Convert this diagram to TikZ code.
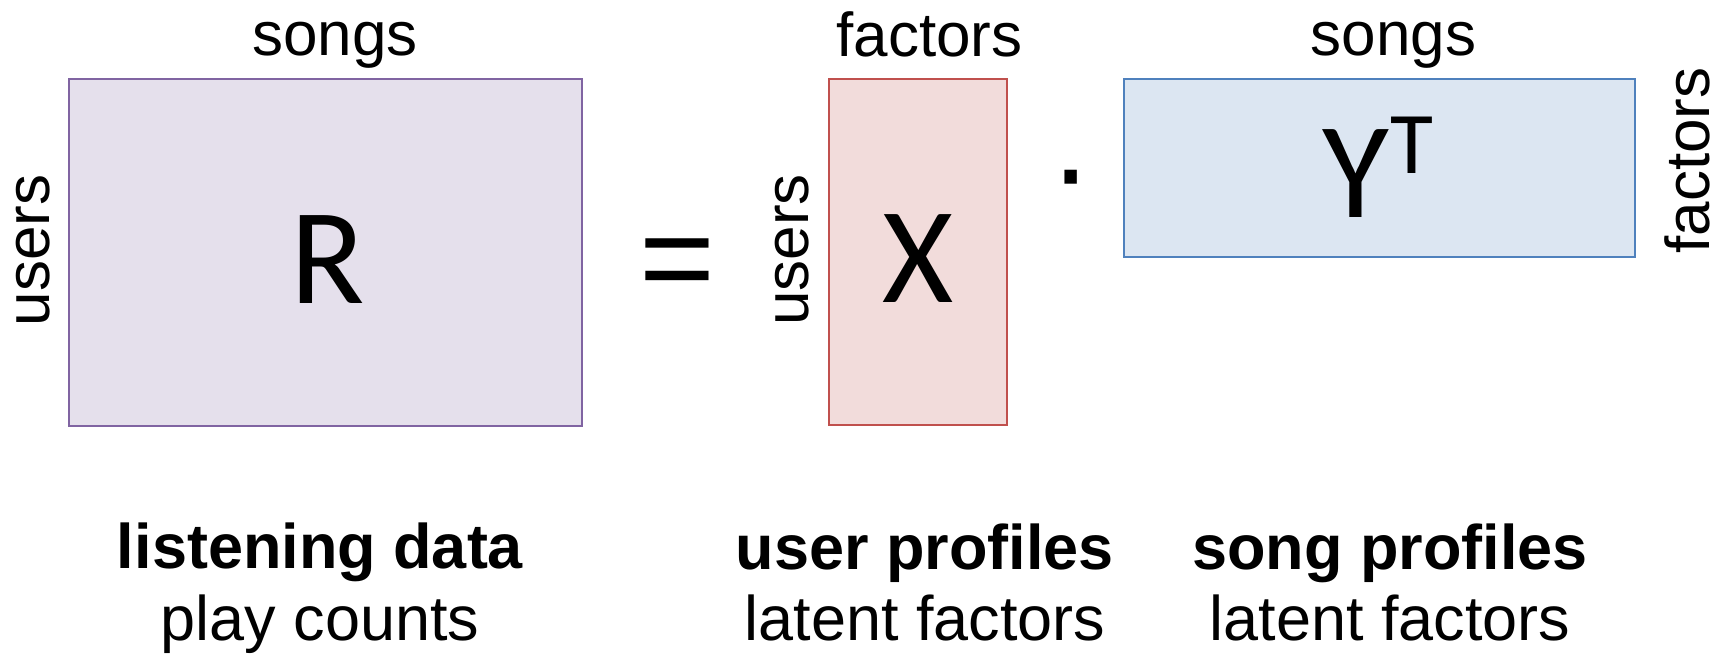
\documentclass[tikz,border=0pt]{standalone}
\usepackage{fontspec}
\setmainfont{Liberation Sans}
\newfontfamily\calibrifont{Carlito}

\definecolor{rfill}{HTML}{E5E0EC}
\definecolor{rline}{HTML}{8064A2}
\definecolor{xfill}{HTML}{F2DCDB}
\definecolor{xline}{HTML}{C0504D}
\definecolor{yfill}{HTML}{DCE6F2}
\definecolor{yline}{HTML}{4F81BD}

\begin{document}
\begin{tikzpicture}[x=1pt,y=-1pt,
	matbox/.style={draw, line width=2pt, inner sep=0pt},
	axislabel/.style={font=\fontsize{62}{62}\selectfont, anchor=base, inner sep=0pt},
	sidelabel/.style={axislabel, rotate=90},
	matsym/.style={font=\calibrifont\fontsize{137}{137}\selectfont, anchor=base, inner sep=0pt},
	opsym/.style={font=\fontsize{130}{130}\selectfont, anchor=north, inner sep=0pt},
	titletext/.style={font=\bfseries\fontsize{63}{63}\selectfont, anchor=base, inner sep=0pt},
	subtext/.style={font=\fontsize{63}{63}\selectfont, anchor=base, inner sep=0pt}]
	\useasboundingbox (0,0) rectangle (1723,658);
	
	\node[matbox, draw=rline, fill=rfill, minimum width=513pt, minimum height=347pt] (R) at (325.5,252.5) {};
	\node[matbox, draw=xline, fill=xfill, minimum width=178pt, minimum height=346pt] (X) at (918,252) {};
	\node[matbox, draw=yline, fill=yfill, minimum width=510.5pt, minimum height=178pt] (Y) at (1379.25,168) {};
	
	\node[matsym] (Rsym) at (328,303) {R};
	\node[matsym] (Xsym) at (918,302) {X};
	\node[matsym, anchor=base west] (Ysym) at (1322,217) {Y\kern2pt\raisebox{44pt}{\fontsize{88}{88}\selectfont T}};
	
	\node[opsym] (eq) at (677.5,239) {=};
	\node[opsym] (dot) at (1071,170) {·};
	
	\node[axislabel] (songsR) at (335,56) {songs};
	\node[axislabel] (factorsX) at (929.5,57) {factors};
	\node[axislabel] (songsY) at (1393.5,56) {songs};
	
	\node[sidelabel] (usersR) at (49,250.5) {users};
	\node[sidelabel] (usersX) at (808,250) {users};
	\node[sidelabel] (factorsY) at (1709,160.5) {factors};
	
	\node[titletext] (listening) at (320,568) {listening data};
	\node[subtext] (playcounts) at (320,640) {play counts};
	\node[titletext] (userprof) at (925,569) {user profiles};
	\node[subtext] (userlat) at (925,640) {latent factors};
	\node[titletext] (songprof) at (1390,569) {song profiles};
	\node[subtext] (songlat) at (1390,640) {latent factors};
\end{tikzpicture}
\end{document}
